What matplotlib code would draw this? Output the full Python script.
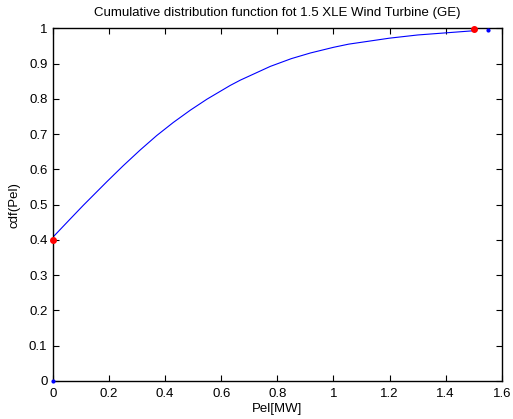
import numpy as np
import matplotlib
matplotlib.use('Agg')
from matplotlib import pyplot as plt

plt.rcParams['font.family'] = ['Liberation Sans', 'DejaVu Sans']

# cdf curve
pel = [0.0, 0.055, 0.108, 0.192, 0.25, 0.311, 0.37, 0.429, 0.49, 0.549, 0.632,
       0.668, 0.775, 0.85, 0.918, 1.0, 1.054, 1.2, 1.3, 1.4, 1.5]
cdf = [0.408, 0.454, 0.498, 0.565, 0.610, 0.655, 0.696, 0.733, 0.768, 0.799, 0.838,
       0.853, 0.892, 0.914, 0.930, 0.946, 0.955, 0.972, 0.981, 0.987, 0.993]

# red marker points
red_x = [0.0, 1.5]
red_y = [0.4, 0.997]

# blue marker points
blue_x = [0.0, 1.55]
blue_y = [0.0, 0.996]

title = 'Cumulative distribution function fot 1.5 XLE Wind Turbine (GE)'
x_ticks = [0, 0.2, 0.4, 0.6, 0.8, 1, 1.2, 1.4, 1.6]
y_ticks = [0, 0.1, 0.2, 0.3, 0.4, 0.5, 0.6, 0.7, 0.8, 0.9, 1]

fig = plt.figure(figsize=(5.13, 4.19), dpi=100)
ax = fig.add_axes([0.1033, 0.0907, 0.8747, 0.8418])

ax.plot(pel, cdf, color='blue', linewidth=0.8)
ax.plot(red_x, red_y, linestyle='none', marker='o', markersize=4, color='red',
        clip_on=False, zorder=5)
ax.plot(blue_x, blue_y, linestyle='none', marker='o', markersize=2, color='blue',
        clip_on=False, zorder=5)

ax.set_xlim(0, 1.6)
ax.set_ylim(0, 1)
ax.set_xticks(x_ticks)
ax.set_xticklabels([f'{t:g}' for t in x_ticks])
ax.set_yticks(y_ticks)
ax.set_yticklabels([f'{t:g}' for t in y_ticks])

ax.tick_params(direction='in', length=4, width=0.8, labelsize=9.5,
               top=True, right=True)
ax.tick_params(axis='x', pad=5)
ax.tick_params(axis='y', pad=4)
for side in ax.spines.values():
    side.set_linewidth(1.0)

ax.set_xlabel('Pel[MW]', fontsize=9.5, labelpad=2)
ax.set_ylabel('cdf(Pel)', fontsize=9.5, labelpad=6)
ax.set_title(title, fontsize=9.5, pad=9)

fig.savefig('out.png', dpi=100)
plt.close()
